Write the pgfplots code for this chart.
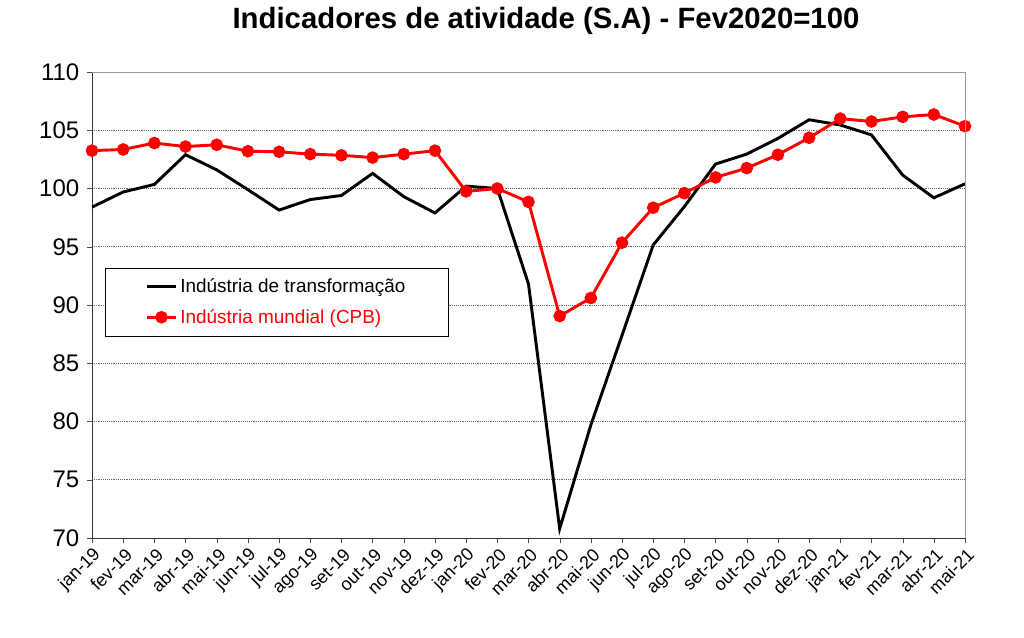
\documentclass[border=0pt]{standalone}
\usepackage{pgfplots}
\pgfplotsset{compat=1.18}
\usepackage{fontspec}
\setmainfont{Liberation Sans}
\begin{document}
\begin{tikzpicture}
\useasboundingbox (-69pt,-75pt) rectangle (699pt,403.5pt);
\begin{axis}[
  at={(0,0)}, anchor=south west,
  scale only axis, width=654.75pt, height=349.5pt,
  xmin=0, xmax=28, ymin=70, ymax=110,
  xtick={0,...,28},
  xticklabels={jan-19,fev-19,mar-19,abr-19,mai-19,jun-19,jul-19,ago-19,set-19,out-19,nov-19,dez-19,jan-20,fev-20,mar-20,abr-20,mai-20,jun-20,jul-20,ago-20,set-20,out-20,nov-20,dez-20,jan-21,fev-21,mar-21,abr-21,mai-21},
  ytick={70,75,...,110},
  /pgf/number format/assume math mode=true,
  yticklabel style={font=\fontsize{18}{20}\selectfont, xshift=-2pt},
  xticklabel style={font=\fontsize{13.5}{15}\selectfont, rotate=45, anchor=east, xshift=2pt, yshift=-7.5pt},
  tick align=outside, xtick pos=left, ytick pos=left,
  major tick length=4pt,
  tick style={black!70},
  axis lines*=left,
  axis line style={-, black!80},
  ymajorgrids, grid style={densely dotted, black!60},
  after end axis/.code={\draw[black!40] (rel axis cs:0,1) -- (rel axis cs:1,1) -- (rel axis cs:1,0);},
  legend style={at={(0.015,0.58)}, anchor=north west, draw=black, fill=white,
    font=\fontsize{14.2}{16}\selectfont, inner xsep=30pt, inner ysep=6pt,
    row sep=7pt},
  legend cell align=left,
  legend image code/.code={\draw[mark repeat=2,mark phase=2,#1] plot coordinates {(0pt,0pt) (11pt,0pt) (22pt,0pt)};},
]
\addplot[black, line width=2.2pt] coordinates {
(0,98.4) (1,99.7) (2,100.35) (3,102.9) (4,101.6) (5,99.9) (6,98.15) (7,99.05) (8,99.4) (9,101.3) (10,99.3) (11,97.9) (12,100.2) (13,100.0) (14,91.8) (15,70.8) (16,79.7) (17,87.4) (18,95.15) (19,98.45) (20,102.1) (21,102.95) (22,104.3) (23,105.9) (24,105.45) (25,104.6) (26,101.15) (27,99.2) (28,100.4)
};
\addlegendentry{Indústria de transformação}
\addplot[red, line width=2.2pt, mark=*, mark size=3.6pt, mark options={fill=red, draw=red}] coordinates {
(0,103.25) (1,103.35) (2,103.9) (3,103.6) (4,103.75) (5,103.2) (6,103.15) (7,102.95) (8,102.85) (9,102.65) (10,102.95) (11,103.25) (12,99.75) (13,100.0) (14,98.85) (15,89.05) (16,90.6) (17,95.35) (18,98.35) (19,99.6) (20,100.95) (21,101.75) (22,102.9) (23,104.35) (24,106.0) (25,105.75) (26,106.15) (27,106.35) (28,105.35)
};
\addlegendentry{\textcolor{red}{Indústria mundial (CPB)}}
\end{axis}
\node[font=\bfseries\fontsize{22}{24}\selectfont] at (340.5pt,388pt) {Indicadores de atividade (S.A) - Fev2020=100};
\end{tikzpicture}
\end{document}
